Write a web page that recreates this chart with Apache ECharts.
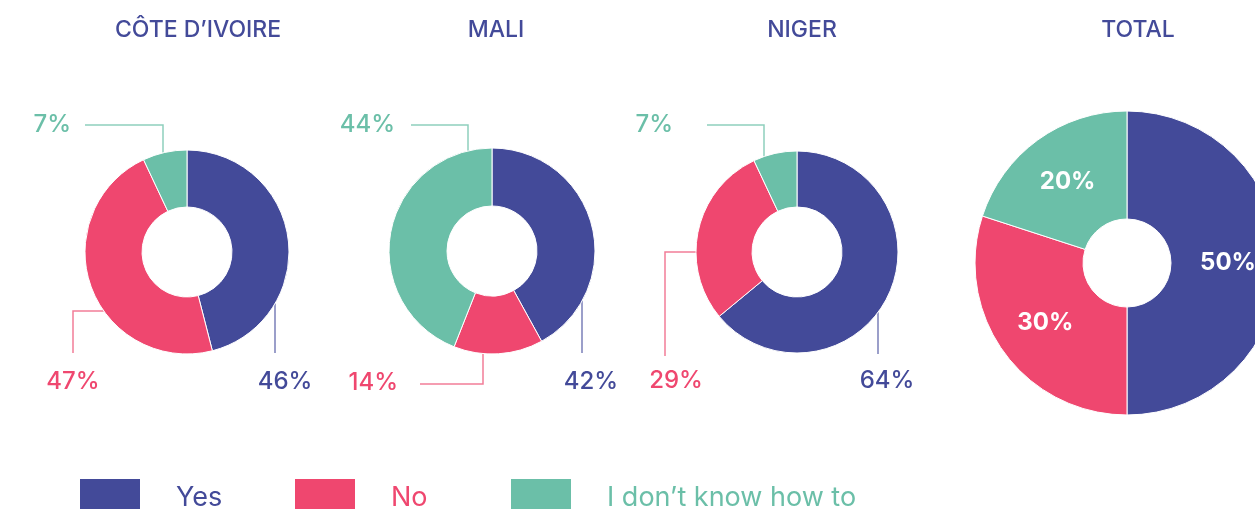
<!DOCTYPE html>
<html>
<head>
<meta charset="utf-8">
<title>Pies</title>
<script src="https://cdn.jsdelivr.net/npm/echarts@6/dist/echarts.min.js"></script>
<style>
  html, body { margin: 0; padding: 0; background: #fff; }
  #chart { width: 1255px; height: 509px; }
</style>
</head>
<body>
<div id="chart"></div>
<script>
// answers, in the order the slices run clockwise from the top
const answers = ['Yes', 'No', 'I don’t know how to'];
const countries = ['CÔTE D’IVOIRE', 'MALI', 'NIGER', 'TOTAL'];
const coteDivoire = [46, 47, 7];
const mali = [42, 14, 44];
const niger = [64, 29, 7];
const total = [50, 30, 20];

const colors = ['#434a99', '#ef476f', '#6bbfa8'];
const lineColors = ['#7a7fb8', '#f27d98', '#8fcfbd'];
const font = 'Inter, Lato, sans-serif';

const centers = [[187, 252], [492, 251], [797, 252], [1127, 263]];
const radii = [[45, 102], [45, 103], [45, 101], [44, 152]];
const titleX = [193, 491, 797, 1133];
const legendX = [78, 293, 509];

// elbow lines for the outside labels, offsets from each pie centre
// ring: where the line touches the donut, path: the bends, text: label anchor
const labelSpots = [
  [
    { ring: ['bottom', 88], path: [[88, 101]], text: [98, 130, 'center'] },
    { ring: ['left', 59], path: [[-114, 59], [-114, 101]], text: [-114, 130, 'center'] },
    { ring: ['top', -24], path: [[-24, -127], [-102, -127]], text: [-116, -127, 'right'] }
  ],
  [
    { ring: ['bottom', 90], path: [[90, 102]], text: [99, 131, 'center'] },
    { ring: ['bottom', -9], path: [[-9, 133], [-72, 133]], text: [-94, 132, 'right'] },
    { ring: ['top', -24], path: [[-24, -126], [-81, -126]], text: [-97, -126, 'right'] }
  ],
  [
    { ring: ['bottom', 81], path: [[81, 102]], text: [90, 129, 'center'] },
    { ring: ['left', 0], path: [[-132, 0], [-132, 104]], text: [-121, 129, 'center'] },
    { ring: ['top', -33], path: [[-33, -127], [-90, -127]], text: [-124, -127, 'right'] }
  ]
];

function placeLabel(params) {
  const s = params.seriesIndex;
  const spot = labelSpots[s][params.dataIndex];
  const cx = centers[s][0], cy = centers[s][1];
  const r = radii[s][1];
  const side = spot.ring[0], v = spot.ring[1];
  const h = Math.sqrt(r * r - v * v);
  let start;
  if (side === 'left') {
    start = [cx - h, cy + v];
  } else {
    start = [cx + v, side === 'top' ? cy - h : cy + h];
  }
  const points = [start].concat(spot.path.map(p => [cx + p[0], cy + p[1]]));
  return {
    x: cx + spot.text[0],
    y: cy + spot.text[1],
    align: spot.text[2],
    verticalAlign: 'middle',
    labelLinePoints: points
  };
}

function slices(values) {
  return values.map((v, i) => ({
    name: answers[i],
    value: v,
    itemStyle: { color: colors[i] },
    label: { color: colors[i] },
    labelLine: { lineStyle: { color: lineColors[i] } }
  }));
}

function donut(values, idx) {
  return {
    type: 'pie',
    center: centers[idx],
    radius: radii[idx],
    startAngle: 90,
    clockwise: true,
    avoidLabelOverlap: false,
    silent: true,
    itemStyle: { borderColor: '#fff', borderWidth: 1 },
    label: {
      position: 'outside',
      formatter: '{c}%',
      fontFamily: font,
      fontWeight: 500,
      fontSize: 24
    },
    labelLine: { show: true, lineStyle: { width: 1.5 } },
    labelLayout: placeLabel,
    data: slices(values)
  };
}

const chart = echarts.init(document.getElementById('chart'));

const option = {
  animation: false,
  backgroundColor: '#fff',
  title: countries.map((c, i) => ({
    text: c,
    left: titleX[i],
    top: 14,
    textAlign: 'center',
    textStyle: { color: colors[0], fontFamily: font, fontWeight: 500, fontSize: 23 }
  })),
  legend: answers.map((a, i) => ({
    left: legendX[i],
    top: 477,
    padding: 0,
    icon: 'rect',
    itemWidth: 62,
    itemHeight: 40,
    selectedMode: false,
    textStyle: {
      fontFamily: font,
      fontSize: 27,
      padding: [0, 0, 0, 30]
    },
    data: [{ name: a, textStyle: { color: colors[i] } }]
  })),
  series: [
    donut(coteDivoire, 0),
    donut(mali, 1),
    donut(niger, 2),
    {
      type: 'pie',
      center: centers[3],
      radius: radii[3],
      startAngle: 90,
      clockwise: true,
      silent: true,
      itemStyle: { borderColor: '#fff', borderWidth: 1 },
      label: {
        position: 'inside',
        formatter: '{c}%',
        color: '#fff',
        fontFamily: font,
        fontWeight: 'bold',
        fontSize: 24
      },
      data: total.map((v, i) => ({ name: answers[i], value: v, itemStyle: { color: colors[i] } }))
    }
  ]
};

chart.setOption(option);
</script>
</body>
</html>
